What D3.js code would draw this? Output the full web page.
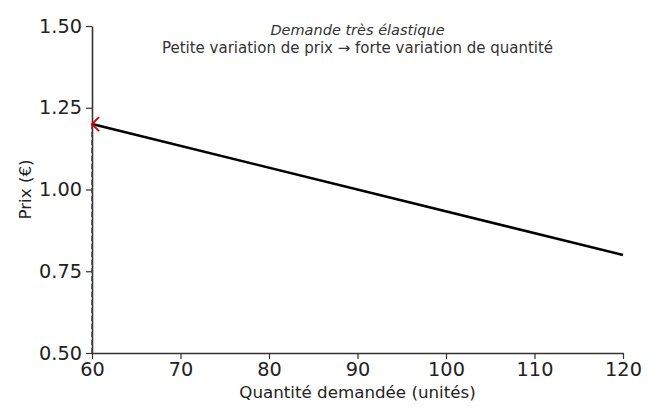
<!DOCTYPE html>
<html><head><meta charset="utf-8">
<script src="https://cdn.jsdelivr.net/npm/d3@7"></script>
<style>body{margin:0;background:#fff}svg{display:block}</style>
</head><body>
<script>
const quantity = [60, 120];
const price = [1.2, 0.8];
const xTicks = [60, 70, 80, 90, 100, 110, 120];
const yTicks = [0.5, 0.75, 1.0, 1.25, 1.5];
const refPoint = {q: 60, p: 1.2};
const title1 = "Demande très élastique";
const title2 = "Petite variation de prix → forte variation de quantité";

const W = 660, H = 420;
const m = {l: 92, r: 37, t: 26, b: 67};
const svg = d3.select("body").append("svg").attr("width", W).attr("height", H)
  .style("font-family", "DejaVu Sans");
const x = d3.scaleLinear().domain([60, 120]).range([m.l, W - m.r]);
const y = d3.scaleLinear().domain([0.5, 1.5]).range([H - m.b, m.t]);

const axColor = "#333";
const gx = svg.append("g").attr("transform", `translate(0,${H - m.b})`)
  .call(d3.axisBottom(x).tickValues(xTicks).tickFormat(d3.format("d")).tickSize(6).tickPadding(3).tickSizeOuter(0));
const gy = svg.append("g").attr("transform", `translate(${m.l},0)`)
  .call(d3.axisLeft(y).tickValues(yTicks).tickFormat(d3.format(".2f")).tickSize(6).tickPadding(4).tickSizeOuter(0));
[gx, gy].forEach(g => {
  g.selectAll("path").attr("stroke", axColor).attr("stroke-width", 1.6);
  g.selectAll("line").attr("stroke", axColor).attr("stroke-width", 1.2);
  g.selectAll("text").attr("fill", "#222").style("font-size", "19.3px").style("font-family", "DejaVu Sans");
});

// dashed reference line
svg.append("line")
  .attr("x1", x(refPoint.q)).attr("x2", x(refPoint.q))
  .attr("y1", y(0.5)).attr("y2", y(refPoint.p))
  .attr("stroke", "#444").attr("stroke-width", 1.5).attr("stroke-dasharray", "5,3");

// demand line
svg.append("path")
  .datum(quantity.map((q, i) => [q, price[i]]))
  .attr("d", d3.line().x(d => x(d[0])).y(d => y(d[1])))
  .attr("fill", "none").attr("stroke", "#000").attr("stroke-width", 2.6);

// red arrowhead
const ax = x(refPoint.q), ay = y(refPoint.p);
svg.append("path")
  .attr("d", `M${ax + 7},${ay - 7} L${ax},${ay} L${ax + 7},${ay + 7}`)
  .attr("fill", "none").attr("stroke", "#e00000").attr("stroke-width", 2);

// titles
const cx = (m.l + W - m.r) / 2;
svg.append("text").attr("x", cx).attr("y", 35).attr("text-anchor", "middle")
  .style("font-style", "italic").style("font-size", "14.5px").attr("fill", "#333").text(title1);
svg.append("text").attr("x", cx).attr("y", 53).attr("text-anchor", "middle")
  .style("font-size", "15px").attr("fill", "#333").text(title2);

// axis labels
svg.append("text").attr("x", cx).attr("y", 398).attr("text-anchor", "middle")
  .style("font-size", "16.7px").attr("fill", "#222").text("Quantité demandée (unités)");
svg.append("text").attr("transform", `translate(31,${(m.t + H - m.b) / 2}) rotate(-90)`)
  .attr("text-anchor", "middle").style("font-size", "16.7px").attr("fill", "#222").text("Prix (€)");
</script>
</body></html>
